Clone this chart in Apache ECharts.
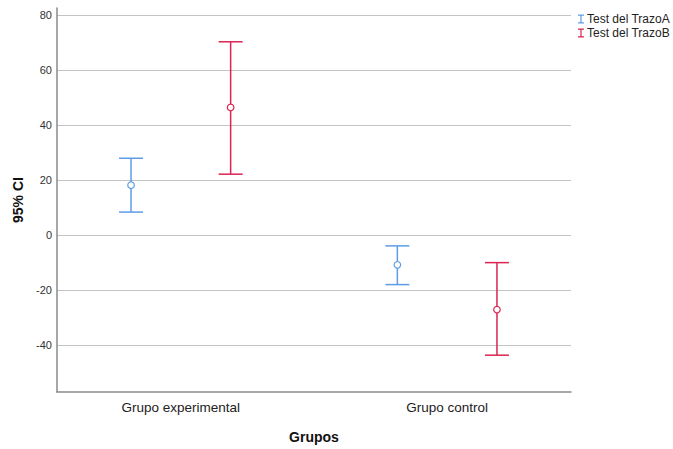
<!DOCTYPE html>
<html>
<head>
<meta charset="utf-8">
<style>
  html, body { margin: 0; padding: 0; background: #fff; }
  #chart { width: 673px; height: 449px; }
</style>
<script src="https://cdn.jsdelivr.net/npm/echarts@6/dist/echarts.min.js"></script>
</head>
<body>
<div id="chart"></div>
<script>
// grupos (eje X)
var categories = ['Grupo experimental', 'Grupo control'];
var seriesNames = ['Test del TrazoA', 'Test del TrazoB'];
// [posicion de grupo, limite inferior, media, limite superior]
var trazoA = [[1, 8.3, 18.1, 27.9], [2, -18.1, -10.9, -4.0]];
var trazoB = [[1, 22.1, 46.4, 70.3], [2, -43.8, -27.2, -10.1]];
var colors = ['#5e9de6', '#dc2452'];
var offsets = [-0.187, 0.187];

var chart = echarts.init(document.getElementById('chart'), null, { renderer: 'svg' });

function makeRender(k) {
  return function(params, api) {
    var x = api.value(0) + offsets[k];
    var lo = api.coord([x, api.value(1)]);
    var mid = api.coord([x, api.value(2)]);
    var hi = api.coord([x, api.value(3)]);
    var cap = 12;
    var st = { stroke: colors[k], lineWidth: 1.5, fill: null };
    return {
      type: 'group',
      children: [
        { type: 'line', shape: { x1: hi[0], y1: hi[1], x2: lo[0], y2: lo[1] }, style: st },
        { type: 'line', shape: { x1: hi[0] - cap, y1: hi[1], x2: hi[0] + cap, y2: hi[1] }, style: st },
        { type: 'line', shape: { x1: lo[0] - cap, y1: lo[1], x2: lo[0] + cap, y2: lo[1] }, style: st },
        { type: 'circle', shape: { cx: mid[0], cy: mid[1], r: 3.3 }, style: { stroke: colors[k], lineWidth: 1.2, fill: '#fff' } }
      ]
    };
  };
}

var ibeam = 'path://M0,0H8V1.6H4.8V10.4H8V12H0V10.4H3.2V1.6H0Z';

chart.setOption({
  animation: false,
  textStyle: { fontFamily: 'Liberation Sans, Arial, sans-serif' },
  legend: {
    orient: 'vertical',
    left: 573,
    top: 8,
    itemGap: 2,
    itemWidth: 6,
    itemHeight: 9,
    textStyle: { fontSize: 12, color: '#222', padding: [0, 0, 0, -2] },
    data: [
      { name: seriesNames[0], icon: ibeam, itemStyle: { color: colors[0] } },
      { name: seriesNames[1], icon: ibeam, itemStyle: { color: colors[1] } }
    ]
  },
  grid: { left: 57, right: 102, top: 8, bottom: 55 },
  xAxis: {
    type: 'value',
    min: 0.535,
    max: 2.465,
    name: 'Grupos',
    nameLocation: 'middle',
    nameGap: 38,
    nameTextStyle: { fontSize: 14, fontWeight: 'bold', color: '#111' },
    axisLine: { onZero: false, lineStyle: { color: '#8a8a8a', width: 1.5 } },
    axisTick: { show: false },
    splitLine: { show: false },
    axisLabel: {
      customValues: [1, 2],
      fontSize: 13.5,
      color: '#222',
      margin: 8,
      formatter: function(v) { return categories[Math.round(v) - 1] || ''; }
    }
  },
  yAxis: {
    type: 'value',
    min: -57.2,
    max: 82.6,
    splitNumber: 7,
    name: '95% CI',
    nameLocation: 'middle',
    nameGap: 32,
    nameTextStyle: { fontSize: 14, fontWeight: 'bold', color: '#111' },
    axisLine: { show: true, onZero: false, lineStyle: { color: '#8a8a8a', width: 1.5 } },
    axisTick: { show: false },
    axisLabel: { fontSize: 11, color: '#333', margin: 5, showMinLabel: false, showMaxLabel: false },
    splitLine: { show: true, showMinLine: false, showMaxLine: false, lineStyle: { color: '#c4c4c4', width: 1.2 } }
  },
  series: [
    { name: seriesNames[0], type: 'custom', renderItem: makeRender(0), itemStyle: { color: colors[0] }, data: trazoA, encode: { x: 0, y: [1, 2, 3] } },
    { name: seriesNames[1], type: 'custom', renderItem: makeRender(1), itemStyle: { color: colors[1] }, data: trazoB, encode: { x: 0, y: [1, 2, 3] } }
  ]
});
</script>
</body>
</html>
